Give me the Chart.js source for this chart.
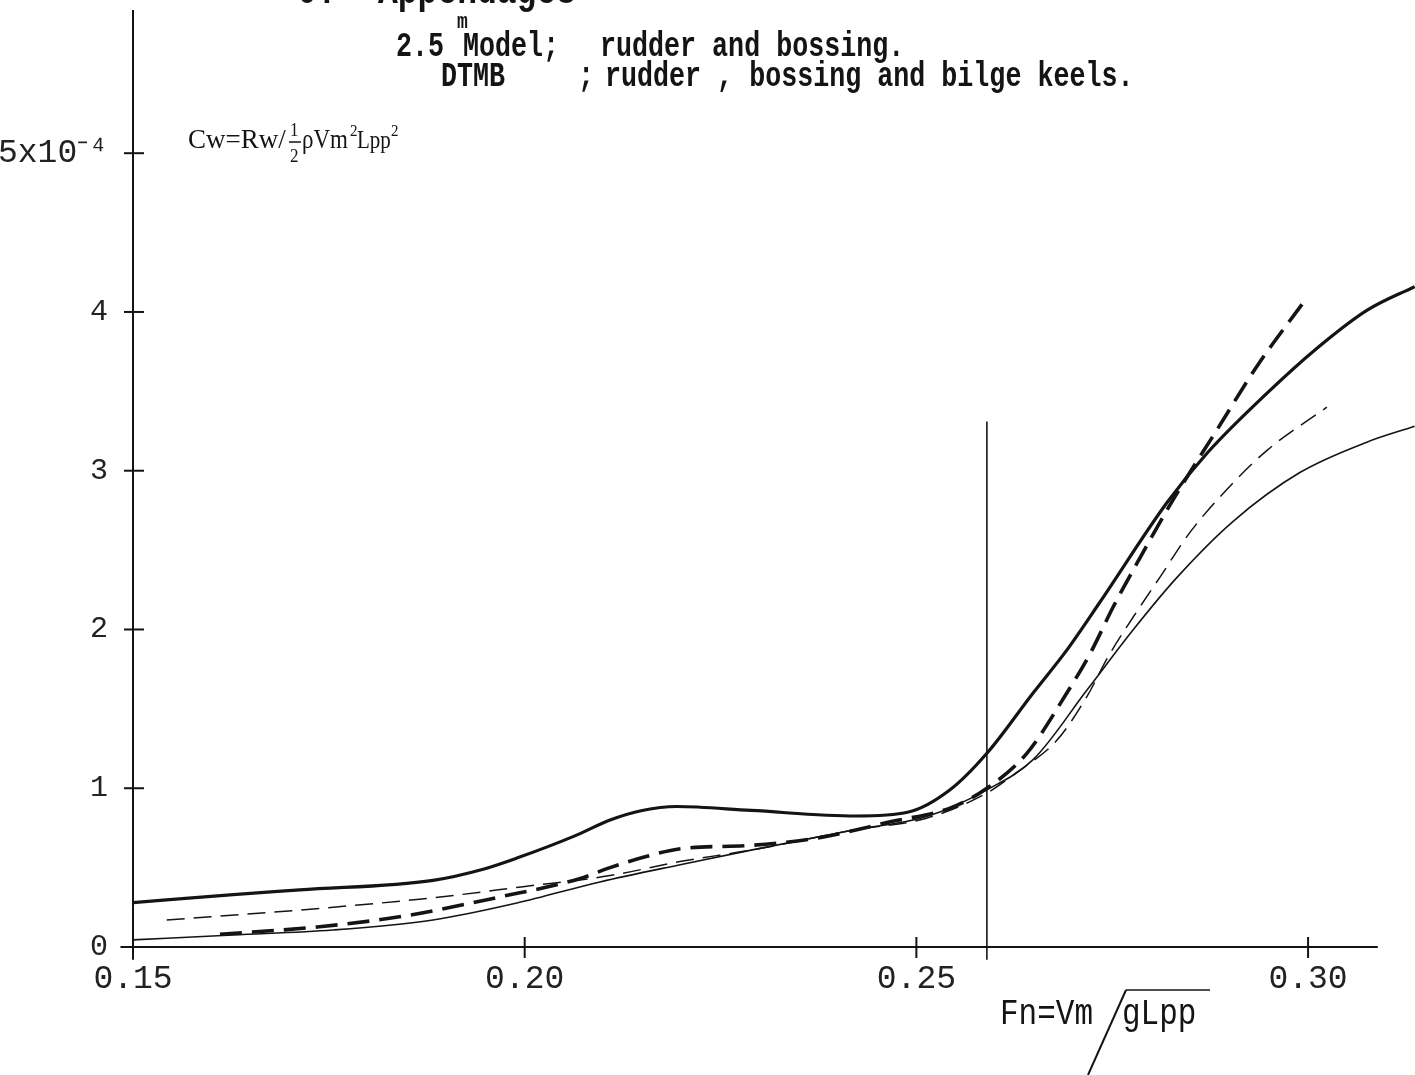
<!DOCTYPE html>
<html><head><meta charset="utf-8">
<script src="https://cdn.jsdelivr.net/npm/chart.js@4.4.1/dist/chart.umd.min.js"></script>
<style>html,body{margin:0;padding:0;background:#fff;}canvas{display:block;}</style>
</head><body>
<canvas id="c" width="1415" height="1075"></canvas>
<script>
// ---- data ----
const xTickValues = [0.15, 0.20, 0.25, 0.30];
const xTickLabels = ['0.15', '0.20', '0.25', '0.30'];
const yTickValues = [0, 1, 2, 3, 4, 5];
const yTickLabels = ['0', '1', '2', '3', '4', '5x10\u207B\u2074'];

// thick solid curve
const thickSolidFn = [0.150, 0.1628, 0.1713, 0.1883, 0.1947, 0.1990, 0.2064, 0.2109, 0.2150, 0.2194, 0.2289, 0.2423, 0.2490, 0.2543, 0.2590, 0.2649, 0.2692, 0.2734, 0.2820, 0.2871, 0.2948, 0.3011, 0.3075, 0.3136];
const thickSolidCw = [0.28, 0.33, 0.36, 0.42, 0.49, 0.56, 0.70, 0.80, 0.86, 0.885, 0.86, 0.825, 0.85, 0.99, 1.22, 1.60, 1.87, 2.17, 2.80, 3.11, 3.49, 3.77, 4.01, 4.16];

// thin solid curve
const thinSolidFn = [0.150, 0.1628, 0.1755, 0.1883, 0.1990, 0.2096, 0.2200, 0.2289, 0.2423, 0.2512, 0.2590, 0.2649, 0.2718, 0.2777, 0.2833, 0.2904, 0.2990, 0.3075, 0.3136];
const thinSolidCw = [0.045, 0.076, 0.107, 0.17, 0.277, 0.41, 0.52, 0.61, 0.74, 0.82, 0.99, 1.18, 1.62, 2.00, 2.33, 2.68, 2.99, 3.18, 3.28];

// thick dashed curve
const thickDashFn = [0.1611, 0.1735, 0.1840, 0.1968, 0.2070, 0.2109, 0.2155, 0.2200, 0.2289, 0.2378, 0.2468, 0.2543, 0.2590, 0.2641, 0.2692, 0.2722, 0.2751, 0.2783, 0.2828, 0.2884, 0.2935, 0.2994];
const thickDashCw = [0.08, 0.126, 0.19, 0.315, 0.43, 0.50, 0.57, 0.62, 0.64, 0.69, 0.79, 0.875, 1.00, 1.22, 1.60, 1.85, 2.14, 2.43, 2.82, 3.26, 3.66, 4.06];

// thin dashed curve
const thinDashFn = [0.1543, 0.1713, 0.1883, 0.1998, 0.2109, 0.2200, 0.2289, 0.2423, 0.2512, 0.2590, 0.2628, 0.2679, 0.2718, 0.2745, 0.2777, 0.2811, 0.2849, 0.2896, 0.2948, 0.3024];
const thinDashCw = [0.17, 0.233, 0.31, 0.38, 0.45, 0.54, 0.61, 0.74, 0.81, 0.97, 1.10, 1.30, 1.58, 1.83, 2.08, 2.33, 2.61, 2.88, 3.13, 3.40];

// vertical reference line
const refLineFn = [0.259, 0.259];
const refLineCw = [-0.08, 3.31];

// ---- chart ----
const INK = '#141414';
const pts = (xs, ys) => xs.map((x, i) => ({x: x, y: ys[i]}));

function txt(ctx, s, x, y, font, sy) {
  ctx.save();
  ctx.font = font;
  ctx.translate(x, y);
  ctx.scale(1, sy || 1);
  ctx.fillText(s, 0, 0);
  ctx.restore();
}

const annot = {
  id: 'annot',
  beforeDraw(chart) {
    const c = chart.ctx;
    c.save(); c.fillStyle = '#fff'; c.fillRect(0, 0, chart.width, chart.height); c.restore();
  },
  afterDraw(chart) {
    const ctx = chart.ctx, xs = chart.scales.x, ys = chart.scales.y;
    const line = (a, b, c, d) => { ctx.beginPath(); ctx.moveTo(a, b); ctx.lineTo(c, d); ctx.stroke(); };
    ctx.save();
    ctx.strokeStyle = INK; ctx.fillStyle = INK; ctx.lineWidth = 2;
    const x0 = xs.getPixelForValue(0.15), y0 = ys.getPixelForValue(0);
    line(x0, chart.chartArea.top, x0, ys.getPixelForValue(-0.08));
    line(xs.getPixelForValue(0.1484), y0, xs.getPixelForValue(0.3089), y0);
    yTickValues.slice(1).forEach(v => { const p = ys.getPixelForValue(v); line(x0 - 9, p, x0 + 11, p); });
    xTickValues.slice(1).forEach(v => { const p = xs.getPixelForValue(v); line(p, y0 - 10, p, y0 + 11); });

    ctx.textBaseline = 'alphabetic'; ctx.textAlign = 'left';
    // header (cut off at top)
    txt(ctx, '9.', 298, 3, 'bold 32px "Liberation Mono"', 1.3);
    txt(ctx, 'Appendages', 378, 3, 'bold 33px "Liberation Mono"', 1.3);
    const tf = 'bold 26.7px "Liberation Mono"';
    txt(ctx, '2.5', 396, 56, tf, 1.3);
    txt(ctx, 'm', 457, 28, 'bold 18px "Liberation Mono"', 1.2);
    txt(ctx, 'Model;', 463, 56, tf, 1.3);
    txt(ctx, 'rudder and bossing.', 600, 56, tf, 1.3);
    txt(ctx, 'DTMB', 441, 86, tf, 1.3);
    txt(ctx, ';', 578, 86, tf, 1.3);
    txt(ctx, 'rudder , bossing and bilge keels.', 605, 86, tf, 1.3);

    // Cw definition
    txt(ctx, 'Cw=Rw/', 188, 148, '27px "Liberation Serif"', 1.05);
    txt(ctx, '1', 290, 136, '17px "Liberation Serif"', 1.1);
    ctx.lineWidth = 1.5; line(289, 142, 301, 142);
    txt(ctx, '2', 290, 162, '17px "Liberation Serif"', 1.1);
    txt(ctx, '\u03C1Vm', 302, 148, '23px "Liberation Serif"', 1.15);
    txt(ctx, '2', 350, 136, '15px "Liberation Serif"', 1.1);
    txt(ctx, 'Lpp', 357, 148, '21px "Liberation Serif"', 1.2);
    txt(ctx, '2', 391, 136, '15px "Liberation Serif"', 1.1);

    // Fn definition
    const ff = '31px "Liberation Mono"';
    txt(ctx, 'Fn=Vm', 1000, 1024, ff, 1.2);
    ctx.lineWidth = 2;
    line(1088, 1075, 1126, 990);
    ctx.lineWidth = 1.5;
    line(1126, 990, 1210, 990);
    txt(ctx, 'gLpp', 1122, 1024, ff, 1.2);
    ctx.restore();
  }
};

new Chart(document.getElementById('c'), {
  type: 'line',
  data: {
    datasets: [
      {data: pts(thickSolidFn, thickSolidCw), borderColor: INK, borderWidth: 3.2},
      {data: pts(thinSolidFn, thinSolidCw), borderColor: INK, borderWidth: 1.6},
      {data: pts(thickDashFn, thickDashCw), borderColor: INK, borderWidth: 3.6, borderDash: [22, 10]},
      {data: pts(thinDashFn, thinDashCw), borderColor: INK, borderWidth: 1.5, borderDash: [18, 9]},
      {data: pts(refLineFn, refLineCw), borderColor: INK, borderWidth: 1.6, tension: 0, clip: false}
    ]
  },
  options: {
    responsive: false,
    animation: false,
    devicePixelRatio: 1,
    layout: {padding: {top: 10, left: 0, right: 0, bottom: 0}},
    elements: {
      point: {radius: 0, hoverRadius: 0},
      line: {cubicInterpolationMode: 'monotone', fill: false, borderCapStyle: 'butt'}
    },
    plugins: {legend: {display: false}, tooltip: {enabled: false}, title: {display: false}},
    scales: {
      x: {
        type: 'linear', min: 0.15, max: 0.31365,
        afterFit(s) { s.height = 128; s.paddingLeft = 0; s.paddingRight = 0; },
        afterBuildTicks(s) { s.ticks = xTickValues.map(v => ({value: v})); },
        grid: {display: false, drawTicks: false},
        border: {display: false},
        ticks: {
          autoSkip: false, maxRotation: 0, padding: 12, color: '#222',
          font: {family: '"Liberation Mono"', size: 33},
          callback: (v, i) => xTickLabels[i]
        }
      },
      y: {
        type: 'linear', min: 0, max: 5.902,
        afterFit(s) { s.width = 133; s.paddingTop = 0; s.paddingBottom = 0; },
        afterBuildTicks(s) { s.ticks = yTickValues.map(v => ({value: v})); },
        grid: {display: false, drawTicks: false},
        border: {display: false},
        ticks: {
          autoSkip: false, padding: 25, color: '#222',
          font: (ctx) => ({family: '"Liberation Mono"', size: ctx.index === 5 ? 33 : 30}),
          callback: (v, i) => yTickLabels[i]
        }
      }
    }
  },
  plugins: [annot]
});
</script>
</body></html>
